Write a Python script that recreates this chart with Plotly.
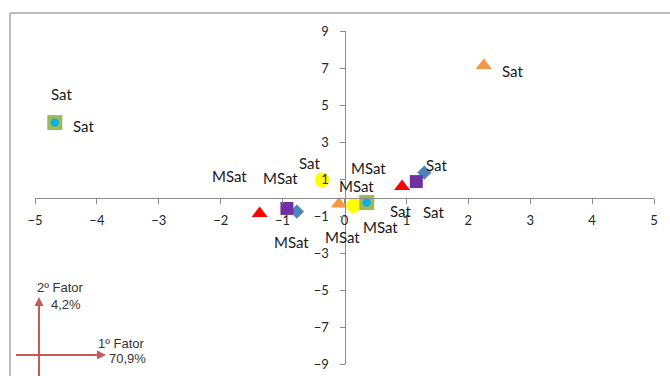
import plotly.graph_objects as go

# Factor scores (1st factor, 2nd factor); each group has [MSat, Sat] points
blue_x = [-0.77, 1.29]
blue_y = [-0.76, 1.35]
purple_x = [-0.93, 1.16]
purple_y = [-0.59, 0.86]
red_x = [-1.37, 0.93]
red_y = [-0.86, 0.59]
orange_x = [-0.09, 2.25]
orange_y = [-0.35, 7.14]
yellow_x = [0.15, -0.36]
yellow_y = [-0.43, 0.95]
green_x = [0.36, -4.68]
green_y = [-0.27, 4.05]

# Category labels placed around the points
label_text = ["Sat", "Sat", "Sat", "MSat", "MSat", "Sat", "MSat", "MSat",
              "Sat", "Sat", "Sat", "MSat", "MSat", "MSat"]
label_x = [-4.58, -4.22, 2.71, -1.85, -1.04, -0.56, 0.38, 0.20,
           1.49, 0.90, 1.43, -0.85, -0.04, 0.58]
label_y = [5.57, 3.89, 6.86, 1.14, 1.03, 1.85, 1.58, 0.62,
           1.78, -0.74, -0.76, -2.43, -2.11, -1.62]

x_ticks = list(range(-5, 6))
y_ticks = list(range(-9, 10, 2))

fig = go.Figure()

def add_series(xs, ys, symbol, size, color):
    fig.add_trace(go.Scatter(
        x=xs, y=ys, mode="markers",
        marker=dict(symbol=symbol, size=size, color=color, line=dict(width=0)),
        showlegend=False, hoverinfo="skip"))

add_series(blue_x, blue_y, "diamond", 11, "#4F81BD")
add_series(purple_x, purple_y, "square", 13, "#7030A0")
add_series(red_x, red_y, "triangle-up", 14, "#FF0000")
add_series(orange_x, orange_y, "triangle-up", 14, "#F79646")
add_series(yellow_x, yellow_y, "circle", 15, "#FFFF00")
add_series(green_x, green_y, "square", 15, "#9BBB59")
add_series(green_x, green_y, "circle", 8, "#00B0F0")

for t, lx, ly in zip(label_text, label_x, label_y):
    fig.add_annotation(x=lx, y=ly, xref="x", yref="y", text=t, showarrow=False,
                       xanchor="center", yanchor="middle",
                       font=dict(family="Lato", size=15, color="#1a1a1a"))

# Axes cross at the origin; tick labels drawn above the markers
axis_style = dict(
    showgrid=False, zeroline=False, showline=True, linecolor="#8c8c8c",
    linewidth=1, ticks="outside", ticklen=5, tickcolor="#8c8c8c",
    tickfont=dict(family="Lato", size=13, color="#262626"),
    anchor="free", position=0.5, fixedrange=True, automargin=False,
    layer="above traces",
)

fig.update_xaxes(range=[-5, 5], tickvals=x_ticks, ticklabelstandoff=6, **axis_style)
fig.update_yaxes(range=[-9, 9], tickvals=y_ticks, ticklabelstandoff=8, **axis_style)

# Chart frame (top and left edges)
frame = "#A6A6A6"
fig.add_shape(type="line", xref="paper", yref="paper", x0=-0.0404, x1=1.1,
              y0=1.054, y1=1.054, line=dict(color=frame, width=1.5))
fig.add_shape(type="line", xref="paper", yref="paper", x0=-0.0404, x1=-0.0404,
              y0=1.054, y1=-0.1, line=dict(color=frame, width=1.5))

# Factor direction arrows with explained variance
arrow_color = "#C65A58"
def px_x(p):
    return (p - 35) / 619
def px_y(p):
    return (364 - p) / 333

# arrow shafts drawn as shapes, heads as short annotation arrows
fig.add_shape(type="line", xref="paper", yref="paper",
              x0=px_x(39), x1=px_x(39), y0=px_y(300), y1=-0.1,
              line=dict(color=arrow_color, width=2))
fig.add_shape(type="line", xref="paper", yref="paper",
              x0=px_x(16), x1=px_x(100), y0=px_y(355), y1=px_y(355),
              line=dict(color=arrow_color, width=2))
fig.add_annotation(x=px_x(39), y=px_y(297), xref="paper", yref="paper",
                   ax=0, ay=14, axref="pixel", ayref="pixel", text="",
                   showarrow=True, arrowhead=2, arrowsize=0.9, arrowwidth=2,
                   arrowcolor=arrow_color)
fig.add_annotation(x=px_x(106), y=px_y(355), xref="paper", yref="paper",
                   ax=-14, ay=0, axref="pixel", ayref="pixel", text="",
                   showarrow=True, arrowhead=2, arrowsize=0.9, arrowwidth=2,
                   arrowcolor=arrow_color)

side_font = dict(family="Liberation Sans", size=13, color="#333333")
for t, px, py in [("2º Fator", 60, 287), ("4,2%", 66, 304),
                  ("1º Fator", 121, 343), ("70,9%", 127, 358)]:
    fig.add_annotation(x=px_x(px), y=px_y(py), xref="paper", yref="paper",
                       text=t, showarrow=False, xanchor="center", yanchor="middle",
                       font=side_font)

fig.update_layout(
    width=670, height=376,
    margin=dict(l=35, r=16, t=31, b=12),
    paper_bgcolor="white", plot_bgcolor="white",
)

fig.write_html("out.html")
